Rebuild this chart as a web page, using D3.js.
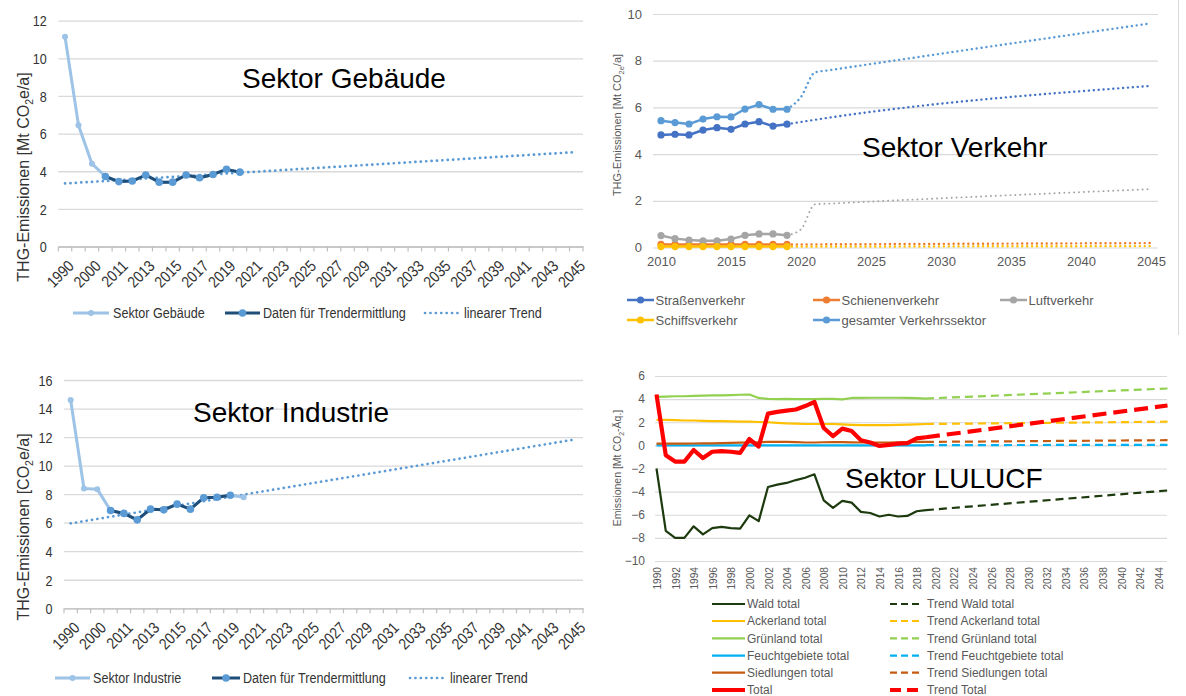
<!DOCTYPE html>
<html>
<head>
<meta charset="utf-8">
<script src="https://cdn.jsdelivr.net/npm/d3@7"></script>
<style>
  body { margin: 0; background: #fff; }
  svg { display: block; font-family: 'Liberation Sans', Arial, sans-serif; }
</style>
</head>
<body>
<svg id="chart" width="1186" height="696"></svg>
<script>
// ---- Data ----

// Gebäude / Industrie share one category axis
const sectorCats = ['1990', '1995', '2000', '2010', '2011', '2012', '2013', '2014', '2015', '2016', '2017', '2018', '2019', '2020',
  '2021', '2022', '2023', '2024', '2025', '2026', '2027', '2028', '2029', '2030', '2031', '2032', '2033', '2034', '2035',
  '2036', '2037', '2038', '2039', '2040', '2041', '2042', '2043', '2044', '2045'];
const sectorHistCats = ['1990', '1995', '2000', '2010', '2011', '2012', '2013', '2014', '2015', '2016', '2017', '2018', '2019', '2020'];

const gebaeudeValues = [11.15, 6.45, 4.4, 3.72, 3.45, 3.48, 3.8, 3.42, 3.42, 3.8, 3.65, 3.83, 4.1, 3.95];
const gebaeudeTrendCats = ['2010', '2011', '2012', '2013', '2014', '2015', '2016', '2017', '2018', '2019', '2020'];
const gebaeudeLinTrend = [3.35, 5.02]; // 1990, 2045

const industrieValues = [14.6, 8.4, 8.35, 6.85, 6.65, 6.2, 6.95, 6.9, 7.3, 6.95, 7.75, 7.78, 7.92, 7.78];
const industrieTrendCats = ['2010', '2011', '2012', '2013', '2014', '2015', '2016', '2017', '2018', '2019'];
const industrieLinTrend = [5.95, 11.85]; // 1990, 2045

// Verkehr
const verkehrYears = [2010, 2011, 2012, 2013, 2014, 2015, 2016, 2017, 2018, 2019];
const strassenValues = [4.82, 4.85, 4.82, 5.03, 5.13, 5.06, 5.29, 5.39, 5.2, 5.28];
const schienenValues = [0.13, 0.13, 0.13, 0.13, 0.13, 0.13, 0.13, 0.13, 0.13, 0.13];
const luftValues = [0.51, 0.38, 0.32, 0.29, 0.29, 0.36, 0.52, 0.58, 0.58, 0.52];
const schiffsValues = [0.04, 0.04, 0.04, 0.04, 0.04, 0.04, 0.04, 0.04, 0.04, 0.04];
const gesamtValues = [5.43, 5.35, 5.29, 5.5, 5.6, 5.59, 5.93, 6.12, 5.92, 5.92];

const strassenProjYears = [2019, 2021, 2045];
const strassenProj = [5.28, 5.47, 6.92];
const schienenProjYears = [2019, 2045];
const schienenProj = [0.13, 0.19];
const luftProjYears = [2019, 2020, 2021, 2022, 2045];
const luftProj = [0.52, 0.78, 1.85, 1.88, 2.5];
const schiffsProjYears = [2019, 2045];
const schiffsProj = [0.04, 0.06];
const gesamtProjYears = [2019, 2020, 2021, 2022, 2045];
const gesamtProj = [5.92, 6.45, 7.5, 7.59, 9.6];

const verkehrTicks = [2010, 2015, 2020, 2025, 2030, 2035, 2040, 2045];

// LULUCF
const luluYears = [1990, 1991, 1992, 1993, 1994, 1995, 1996, 1997, 1998, 1999, 2000, 2001, 2002, 2003, 2004,
  2005, 2006, 2007, 2008, 2009, 2010, 2011, 2012, 2013, 2014, 2015, 2016, 2017, 2018, 2019];
const waldValues = [-2.0, -7.4, -8.0, -8.0, -7.0, -7.7, -7.15, -7.05, -7.15, -7.2, -6.05, -6.55, -3.6, -3.4, -3.25,
  -3.0, -2.8, -2.5, -4.75, -5.4, -4.8, -4.95, -5.75, -5.85, -6.15, -6.0, -6.15, -6.1, -5.7, -5.6];
const ackerValues = [2.2, 2.2, 2.18, 2.15, 2.15, 2.12, 2.1, 2.1, 2.08, 2.05, 2.05, 2.02, 2.0, 1.95, 1.9,
  1.88, 1.85, 1.85, 1.85, 1.85, 1.82, 1.78, 1.75, 1.75, 1.75, 1.75, 1.78, 1.8, 1.82, 1.85];
const gruenValues = [4.2, 4.22, 4.25, 4.25, 4.28, 4.3, 4.32, 4.33, 4.35, 4.38, 4.4, 4.1, 4.02, 4.0, 4.02,
  4.0, 4.0, 4.0, 4.02, 4.02, 3.98, 4.1, 4.1, 4.12, 4.12, 4.12, 4.12, 4.1, 4.08, 4.05];
const feuchtValues = [0.0, 0.0, 0.0, 0.0, 0.0, 0.0, 0.0, 0.0, 0.0, 0.0, 0.0, 0.0, 0.0, 0.0, 0.0,
  0.0, 0.0, 0.0, 0.0, 0.0, 0.0, 0.0, 0.0, 0.0, 0.0, 0.0, 0.0, 0.0, 0.0, 0.0];
const siedlValues = [0.15, 0.15, 0.15, 0.15, 0.16, 0.17, 0.18, 0.2, 0.22, 0.24, 0.25, 0.27, 0.3, 0.3, 0.3,
  0.28, 0.25, 0.25, 0.27, 0.28, 0.28, 0.26, 0.25, 0.25, 0.25, 0.25, 0.26, 0.28, 0.3, 0.3];
const totalValues = [4.4, -0.85, -1.4, -1.4, -0.4, -1.1, -0.55, -0.5, -0.55, -0.65, 0.55, -0.1, 2.75, 2.9, 3.0,
  3.1, 3.4, 3.75, 1.5, 0.8, 1.45, 1.25, 0.45, 0.25, -0.05, 0.05, 0.15, 0.2, 0.6, 0.7];

const luluTrendYears = [2019, 2045];
const waldTrend = [-5.6, -3.9];
const ackerTrend = [1.85, 2.05];
const gruenTrend = [4.05, 4.92];
const feuchtTrend = [0.02, 0.05];
const siedlTrend = [0.3, 0.45];
const totalTrend = [0.7, 3.45];

const luluTicks = [1990, 1992, 1994, 1996, 1998, 2000, 2002, 2004, 2006, 2008, 2010, 2012, 2014, 2016,
  2018, 2020, 2022, 2024, 2026, 2028, 2030, 2032, 2034, 2036, 2038, 2040, 2042, 2044];

const Chart = {
  init() {
    this.svg = d3.select('#chart');
    this.grid = '#d9d9d9';
    this.grey = '#595959';
    this.ink = '#333';

    this.drawSector({
      xRange: [58.3, 583], yRange: [246.5, 20.7], yMax: 12,
      values: gebaeudeValues, trendCats: gebaeudeTrendCats, linTrend: gebaeudeLinTrend,
      title: 'Sektor Gebäude', titlePos: [242, 88],
      yLabel: ['THG-Emissionen [Mt CO', '2', 'e/a]'], yLabelPos: [23, 177],
      legendY: 313, legendName: 'Sektor Gebäude',
      legendX: [[73, 109, 113], [225, 260, 263], [425, 461, 464]],
    });

    this.drawSector({
      xRange: [64, 583], yRange: [608.3, 380], yMax: 16,
      values: industrieValues, trendCats: industrieTrendCats, linTrend: industrieLinTrend,
      title: 'Sektor Industrie', titlePos: [193, 422],
      yLabel: ['THG-Emissionen [CO', '2', 'e/a]'], yLabelPos: [23, 527],
      legendY: 678, legendName: 'Sektor Industrie',
      legendX: [[55, 90, 93], [212, 240, 243], [410, 446, 450]],
    });

    this.drawVerkehr();
    this.drawLulucf();

    // thin frame line on the right of the top-right chart
    this.svg.append('line')
      .attr('x1', 1178.5).attr('x2', 1178.5).attr('y1', 0).attr('y2', 335)
      .attr('stroke', '#d9d9d9').attr('stroke-width', 1);
  },

  rotLabel(g, pos, parts, size, fill) {
    const t = g.append('text')
      .attr('transform', `translate(${pos[0]},${pos[1]}) rotate(-90)`)
      .attr('text-anchor', 'middle')
      .attr('dy', '0.35em')
      .attr('font-size', size)
      .attr('fill', fill);
    t.append('tspan').text(parts[0]);
    t.append('tspan').attr('font-size', size * 0.65).attr('dy', size * 0.3).text(parts[1]);
    t.append('tspan').attr('dy', -size * 0.3).text(parts[2]);
  },

  drawSector(p) {
    const g = this.svg.append('g');
    const sq = 0.84;

    const x = d3.scalePoint().domain(sectorCats).range(p.xRange).padding(0.5);
    const y = d3.scaleLinear().domain([0, p.yMax]).range(p.yRange);
    const step = x.step();

    // y axis with grid lines
    const ay = d3.axisLeft(y).ticks(p.yMax / 2).tickSize(-(p.xRange[1] - p.xRange[0])).tickPadding(0);
    const ayCall = g.append('g').attr('transform', `translate(${p.xRange[0]},0)`).call(ay);
    ayCall.select('.domain').remove();
    ayCall.selectAll('line').attr('stroke', this.grid).attr('stroke-width', 1.3);
    ayCall.selectAll('text')
      .attr('x', -11.5 / sq).attr('dy', '0.35em')
      .attr('transform', `scale(${sq},1)`)
      .attr('font-size', 15).attr('font-family', "'Liberation Sans', Arial, sans-serif")
      .attr('fill', this.ink);

    // x axis
    const ax = d3.axisBottom(x).tickValues(sectorCats.filter((d, i) => i % 2 === 0)).tickSize(0);
    const axCall = g.append('g').attr('transform', `translate(0,${p.yRange[0]})`).call(ax);
    axCall.select('.domain').attr('stroke', '#bfbfbf').attr('stroke-width', 1.3);
    axCall.selectAll('text')
      .attr('x', 0).attr('y', 0).attr('dy', '0.75em')
      .attr('text-anchor', 'end')
      .attr('transform', 'translate(1,12) rotate(-45) scale(0.86,1)')
      .attr('font-size', 16).attr('font-family', "'Liberation Sans', Arial, sans-serif")
      .attr('fill', this.ink);

    // tick marks between categories
    const bounds = sectorCats.map((c) => x(c) - step / 2).concat([x(sectorCats[sectorCats.length - 1]) + step / 2]);
    g.append('g').selectAll('line').data(bounds).join('line')
      .attr('x1', (d) => d).attr('x2', (d) => d)
      .attr('y1', p.yRange[0]).attr('y2', p.yRange[0] + 5)
      .attr('stroke', '#bfbfbf').attr('stroke-width', 1.2);

    const hist = sectorHistCats.map((c, i) => ({ c, v: p.values[i] }));
    const trendData = hist.filter((d) => p.trendCats.includes(d.c));
    const line = d3.line().x((d) => x(d.c)).y((d) => y(d.v));

    // linear trend
    const lin = [{ c: sectorCats[0], v: p.linTrend[0] }, { c: sectorCats[sectorCats.length - 1], v: p.linTrend[1] }];
    g.append('path').attr('d', line(lin))
      .attr('fill', 'none').attr('stroke', '#5b9bd5').attr('stroke-width', 2.7)
      .attr('stroke-linecap', 'round').attr('stroke-dasharray', '0.1 5.3');

    // sector line
    g.append('path').attr('d', line(hist))
      .attr('fill', 'none').attr('stroke', '#9dc3e6').attr('stroke-width', 3).attr('stroke-linejoin', 'round');
    g.append('g').selectAll('circle').data(hist).join('circle')
      .attr('cx', (d) => x(d.c)).attr('cy', (d) => y(d.v)).attr('r', 3)
      .attr('fill', '#9dc3e6');

    // data used for trend
    g.append('path').attr('d', line(trendData))
      .attr('fill', 'none').attr('stroke', '#1f4e79').attr('stroke-width', 3).attr('stroke-linejoin', 'round');
    g.append('g').selectAll('circle').data(trendData).join('circle')
      .attr('cx', (d) => x(d.c)).attr('cy', (d) => y(d.v)).attr('r', 3.8)
      .attr('fill', '#5b9bd5');

    // title
    g.append('text').attr('x', p.titlePos[0]).attr('y', p.titlePos[1])
      .attr('font-size', 28).attr('fill', '#000').text(p.title);

    this.rotLabel(g, p.yLabelPos, p.yLabel, 16, this.ink);

    // legend
    const ly = p.legendY;
    const items = [
      { name: p.legendName, stroke: '#9dc3e6', marker: '#9dc3e6', r: 3 },
      { name: 'Daten für Trendermittlung', stroke: '#1f4e79', marker: '#5b9bd5', r: 3.8 },
      { name: 'linearer Trend', stroke: '#5b9bd5', dotted: true },
    ];
    items.forEach((it, i) => {
      const [x0, x1, tx] = p.legendX[i];
      const ln = g.append('line').attr('x1', x0).attr('x2', x1).attr('y1', ly).attr('y2', ly)
        .attr('stroke', it.stroke).attr('stroke-width', it.dotted ? 2.7 : 3);
      if (it.dotted) {
        ln.attr('stroke-linecap', 'round').attr('stroke-dasharray', '0.1 5.3');
      } else {
        g.append('circle').attr('cx', (x0 + x1) / 2).attr('cy', ly).attr('r', it.r).attr('fill', it.marker);
      }
      g.append('text')
        .attr('transform', `translate(${tx},${ly}) scale(${sq},1)`)
        .attr('dy', '0.35em').attr('font-size', 15).attr('fill', this.ink).text(it.name);
    });
  },

  drawVerkehr() {
    const g = this.svg.append('g');
    const x = d3.scaleLinear().domain([2010, 2045]).range([661, 1151]);
    const y = d3.scaleLinear().domain([0, 10]).range([247.5, 14]);
    const gx0 = 653;
    const gx1 = 1158;

    const ay = d3.axisLeft(y).tickValues([0, 2, 4, 6, 8, 10]).tickSize(-(gx1 - gx0)).tickPadding(11);
    const ayCall = g.append('g').attr('transform', `translate(${gx0},0)`).call(ay);
    ayCall.select('.domain').remove();
    ayCall.selectAll('line').attr('stroke', this.grid).attr('stroke-width', 1.2);
    ayCall.selectAll('text').attr('font-size', 13).attr('fill', this.grey)
      .attr('font-family', "'Liberation Sans', Arial, sans-serif");

    const ax = d3.axisBottom(x).tickValues(verkehrTicks).tickFormat(d3.format('d')).tickSize(0).tickPadding(9.5);
    const axCall = g.append('g').attr('transform', `translate(0,${y(0)})`).call(ax);
    axCall.select('.domain').remove();
    axCall.selectAll('text').attr('font-size', 13).attr('fill', this.grey)
      .attr('font-family', "'Liberation Sans', Arial, sans-serif");

    const series = [
      { name: 'Straßenverkehr', color: '#4472c4', vals: strassenValues, py: strassenProjYears, pv: strassenProj, dw: 2.4 },
      { name: 'Schienenverkehr', color: '#ed7d31', vals: schienenValues, py: schienenProjYears, pv: schienenProj, dw: 2.4 },
      { name: 'Luftverkehr', color: '#a5a5a5', vals: luftValues, py: luftProjYears, pv: luftProj, dw: 1.9 },
      { name: 'Schiffsverkehr', color: '#ffc000', vals: schiffsValues, py: schiffsProjYears, pv: schiffsProj, dw: 2.4 },
      { name: 'gesamter Verkehrssektor', color: '#5b9bd5', vals: gesamtValues, py: gesamtProjYears, pv: gesamtProj, dw: 2.4 },
    ];

    const line = d3.line().x((d) => x(d.t)).y((d) => y(d.v));
    const projLine = d3.line().x((d) => x(d.t)).y((d) => y(d.v)).curve(d3.curveMonotoneX);

    series.forEach((s) => {
      const proj = s.py.map((t, i) => ({ t, v: s.pv[i] }));
      g.append('path').attr('d', projLine(proj))
        .attr('fill', 'none').attr('stroke', s.color).attr('stroke-width', s.dw)
        .attr('stroke-linecap', 'round').attr('stroke-dasharray', '0.1 4.8');
    });
    series.forEach((s) => {
      const data = verkehrYears.map((t, i) => ({ t, v: s.vals[i] }));
      g.append('path').attr('d', line(data))
        .attr('fill', 'none').attr('stroke', s.color).attr('stroke-width', 2.5).attr('stroke-linejoin', 'round');
      g.append('g').selectAll('circle').data(data).join('circle')
        .attr('cx', (d) => x(d.t)).attr('cy', (d) => y(d.v)).attr('r', 3.6).attr('fill', s.color);
    });

    g.append('text').attr('x', 862).attr('y', 157)
      .attr('font-size', 28).attr('fill', '#000').text('Sektor Verkehr');

    // y label with "2e" subscript
    const t = g.append('text')
      .attr('transform', 'translate(617,125) rotate(-90)')
      .attr('text-anchor', 'middle').attr('dy', '0.35em')
      .attr('font-size', 11).attr('fill', this.grey);
    t.append('tspan').text('THG-Emissionen [Mt CO');
    t.append('tspan').attr('font-size', 7.5).attr('dy', 3).text('2e');
    t.append('tspan').attr('dy', -3).text('/a]');

    // legend
    const pos = [[627, 300], [813, 300], [1000, 300], [627, 320], [813, 320]];
    series.forEach((s, i) => {
      const [lx, ly] = pos[i];
      g.append('line').attr('x1', lx).attr('x2', lx + 27).attr('y1', ly).attr('y2', ly)
        .attr('stroke', s.color).attr('stroke-width', 2.5);
      g.append('circle').attr('cx', lx + 13.5).attr('cy', ly).attr('r', 3.6).attr('fill', s.color);
      g.append('text').attr('x', lx + 28.5).attr('y', ly).attr('dy', '0.35em')
        .attr('font-size', 13).attr('fill', this.grey).text(s.name);
    });
  },

  drawLulucf() {
    const g = this.svg.append('g');
    const x = d3.scaleLinear().domain([1990, 2045]).range([656.5, 1167.5]);
    const y = d3.scaleLinear().domain([-10, 6]).range([561, 376]);
    const gx0 = 655;
    const gx1 = 1167;

    const ay = d3.axisLeft(y).tickValues([-10, -8, -6, -4, -2, 0, 2, 4, 6]).tickSize(-(gx1 - gx0)).tickPadding(10);
    const ayCall = g.append('g').attr('transform', `translate(${gx0},0)`).call(ay);
    ayCall.select('.domain').remove();
    ayCall.selectAll('line').attr('stroke', this.grid).attr('stroke-width', 1.2);
    ayCall.selectAll('text').attr('font-size', 12).attr('fill', this.grey)
      .attr('font-family', "'Liberation Sans', Arial, sans-serif");

    const ax = d3.axisBottom(x).tickValues(luluTicks).tickFormat(d3.format('d')).tickSize(0);
    const axCall = g.append('g').attr('transform', `translate(0,${y(-10)})`).call(ax);
    axCall.select('.domain').remove();
    axCall.selectAll('text')
      .attr('x', 0).attr('y', 0).attr('dy', '0.35em')
      .attr('text-anchor', 'end')
      .attr('transform', 'translate(0,6) rotate(-90) scale(0.88,1)')
      .attr('font-size', 11.5).attr('fill', this.grey)
      .attr('font-family', "'Liberation Sans', Arial, sans-serif");

    const series = [
      { name: 'Wald total', color: '#1c3a0e', vals: waldValues, trend: waldTrend, w: 2.2 },
      { name: 'Ackerland total', color: '#ffc000', vals: ackerValues, trend: ackerTrend, w: 2.2 },
      { name: 'Grünland total', color: '#92d050', vals: gruenValues, trend: gruenTrend, w: 2.2 },
      { name: 'Feuchtgebiete total', color: '#00b0f0', vals: feuchtValues, trend: feuchtTrend, w: 2.2 },
      { name: 'Siedlungen total', color: '#c55a11', vals: siedlValues, trend: siedlTrend, w: 2.2 },
      { name: 'Total', color: '#ff0000', vals: totalValues, trend: totalTrend, w: 4.2 },
    ];

    const line = d3.line().x((d) => x(d.t)).y((d) => y(d.v));
    const dash = (s) => (s.w > 3 ? '14 7' : '8 5');

    series.forEach((s) => {
      const tr = luluTrendYears.map((t, i) => ({ t, v: s.trend[i] }));
      g.append('path').attr('d', line(tr))
        .attr('fill', 'none').attr('stroke', s.color).attr('stroke-width', s.w)
        .attr('stroke-dasharray', dash(s));
    });
    series.forEach((s) => {
      const data = luluYears.map((t, i) => ({ t, v: s.vals[i] }));
      g.append('path').attr('d', line(data))
        .attr('fill', 'none').attr('stroke', s.color).attr('stroke-width', s.w).attr('stroke-linejoin', 'round');
    });

    g.append('text').attr('x', 845).attr('y', 488)
      .attr('font-size', 28).attr('fill', '#000').text('Sektor LULUCF');

    const t = g.append('text')
      .attr('transform', 'translate(617,468) rotate(-90)')
      .attr('text-anchor', 'middle').attr('dy', '0.35em')
      .attr('font-size', 10.5).attr('fill', this.grey);
    t.append('tspan').text('Emissionen [Mt CO');
    t.append('tspan').attr('font-size', 7).attr('dy', 3).text('2');
    t.append('tspan').attr('dy', -3).text('-Äq.]');

    // legend, two columns
    const rows = [604, 621, 638.3, 655.7, 672.7, 690];
    series.forEach((s, i) => {
      const ly = rows[i];
      g.append('line').attr('x1', 712).attr('x2', 745).attr('y1', ly).attr('y2', ly)
        .attr('stroke', s.color).attr('stroke-width', s.w);
      g.append('text').attr('x', 747).attr('y', ly).attr('dy', '0.35em')
        .attr('font-size', 12).attr('fill', this.grey).text(s.name);

      g.append('line').attr('x1', 890).attr('x2', 923).attr('y1', ly).attr('y2', ly)
        .attr('stroke', s.color).attr('stroke-width', s.w).attr('stroke-dasharray', s.w > 3 ? '11 6' : '7 4');
      g.append('text').attr('x', 927).attr('y', ly).attr('dy', '0.35em')
        .attr('font-size', 12).attr('fill', this.grey).text('Trend ' + s.name);
    });
  },
};

Chart.init();
</script>
</body>
</html>
